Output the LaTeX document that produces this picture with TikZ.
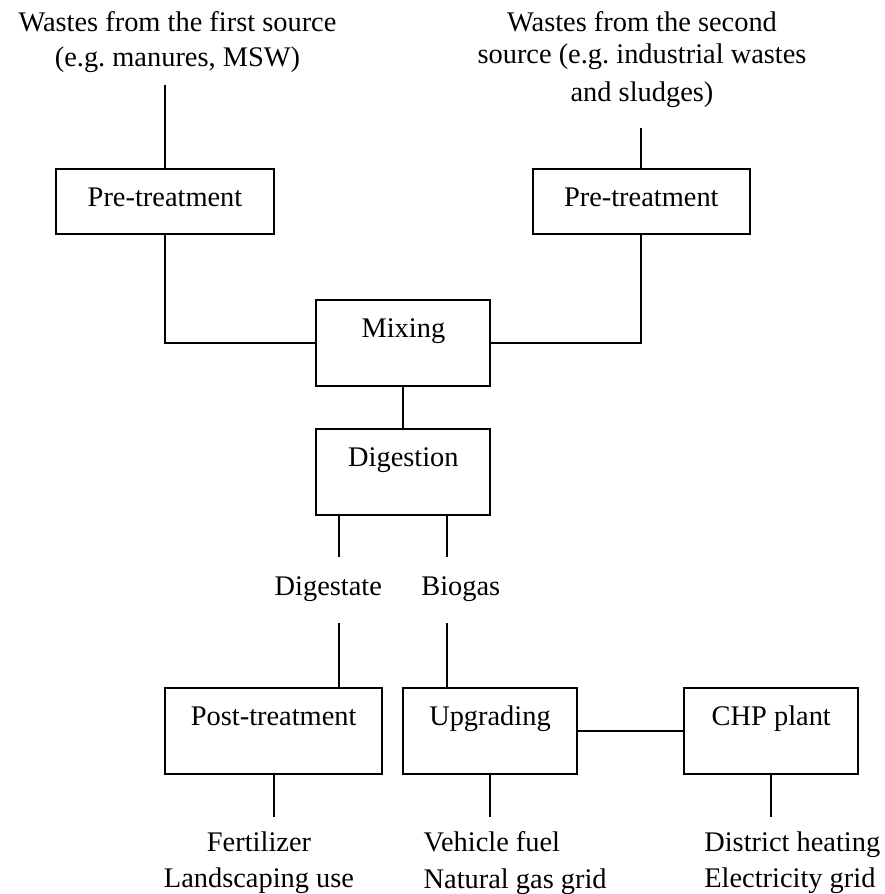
\documentclass[tikz,border=0pt]{standalone}
\usepackage{fontspec}
\setmainfont{Liberation Serif}
\frenchspacing
\tikzset{
  stage/.style={draw, inner sep=0pt, anchor=north, text height=18.75pt,
    text depth=24.25pt, minimum width=87pt},
  widestage/.style={stage, minimum width=108.7pt},
  lowstage/.style={text depth=13.45pt},
  lbl/.style={inner sep=0pt, align=center}
}
\begin{document}
\begin{tikzpicture}[x=0.5pt, y=-0.5pt, line width=1pt, font=\fontsize{14.2}{17.5}\selectfont]
\useasboundingbox (0,0) rectangle (884,894);
\node (src1) [lbl, anchor=north] at (177.5,10.6) {Wastes from the first source\\(e.g. manures, MSW)};
\node (src2) [lbl, anchor=north] at (642,10.6) {Wastes from the second\\[-1.65pt]source (e.g. industrial wastes\\[1.65pt]and sludges)};
\node (pre1) [widestage, lowstage] at (165,168.3) {Pre-treatment};
\node (pre2) [widestage, lowstage] at (641.3,168.3) {Pre-treatment};
\node (mix) [stage] at (403.4,299) {Mixing};
\node (dig) [stage] at (403.4,428) {Digestion};
\node (dgs) [lbl, anchor=base] at (328.3,595) {Digestate};
\node (bgs) [lbl, anchor=base] at (460.8,595) {Biogas};
\node (post) [widestage] at (273.7,687.3) {Post-treatment};
\node (upg) [stage] at (490,687.3) {Upgrading};
\node (chp) [stage] at (771.3,687.3) {CHP plant};
\node (fert) [lbl, anchor=north] at (259,830.6) {Fertilizer\\[0.8pt]Landscaping use};
\node (fuel) [lbl, align=left, anchor=north west] at (422.7,830.6) {Vehicle fuel\\[0.8pt]Natural gas grid};
\node (heat) [lbl, align=left, anchor=north west] at (703.3,830.6) {District heating\\[0.8pt]Electricity grid};
\path (dig.south) ++(-64.7,0) coordinate (dgleg);
\path (dig.south) ++(43.1,0) coordinate (bgleg);
\draw[shorten <=5.4pt] (src1.south -| pre1.north) -- (pre1.north);
\draw[shorten <=9.4pt] (src2.south -| pre2.north) -- (pre2.north);
\draw (pre1.south) |- (mix.west);
\draw (pre2.south) |- (mix.east);
\draw (mix) -- (dig);
\draw[shorten >=9.25pt] (dgleg) -- (dgleg |- dgs.north);
\draw[shorten >=9.25pt] (bgleg) -- (bgleg |- bgs.north);
\draw[shorten <=10.25pt] (dgleg |- dgs.south) -- (dgleg |- post.north);
\draw[shorten <=10.25pt] (bgleg |- bgs.south) -- (bgleg |- upg.north);
\draw (upg) -- (chp);
\draw[shorten >=6.8pt] (post.south) -- (post.south |- fert.north);
\draw[shorten >=6.8pt] (upg.south) -- (upg.south |- fuel.north);
\draw[shorten >=6.8pt] (chp.south) -- (chp.south |- heat.north);
\end{tikzpicture}
\end{document}
